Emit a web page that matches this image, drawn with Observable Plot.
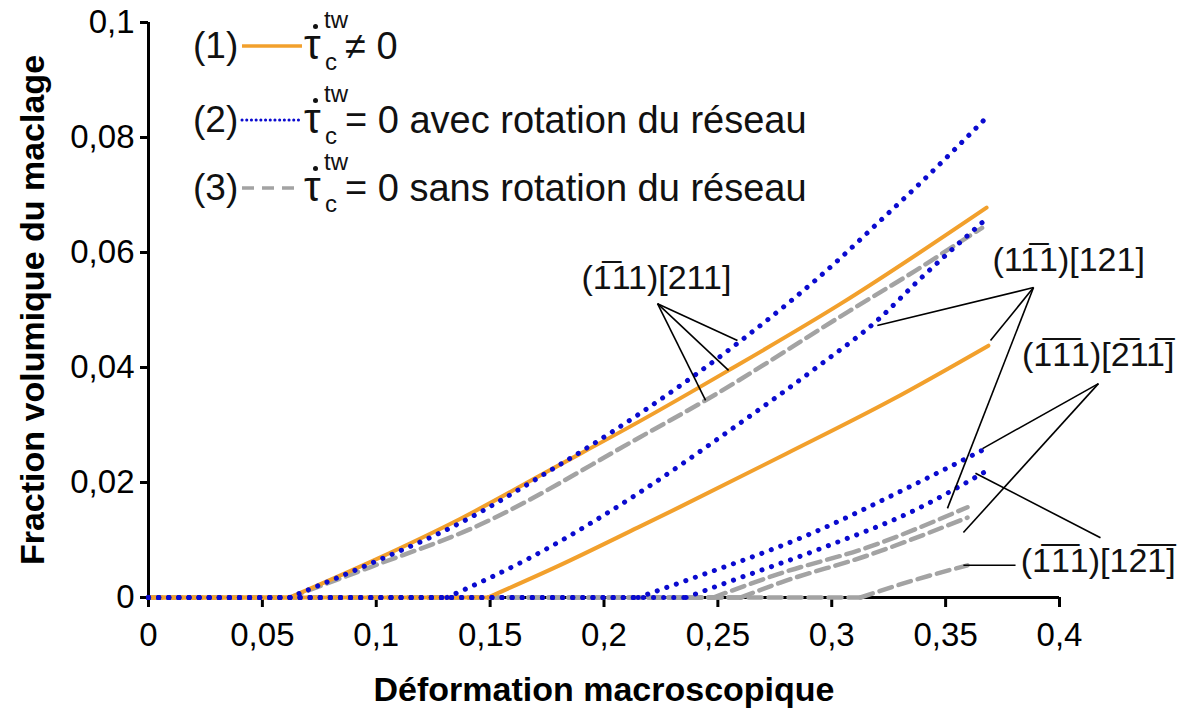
<!DOCTYPE html>
<html><head><meta charset="utf-8">
<script src="https://cdn.jsdelivr.net/npm/d3@7"></script>
<script src="https://cdn.jsdelivr.net/npm/@observablehq/plot@0.6"></script>
<style>
body{margin:0;background:#fff;}
#wrap{position:relative;width:1187px;height:724px;font-family:"Liberation Sans",Arial,sans-serif;color:#111;}
.lg{position:absolute;white-space:nowrap;line-height:1;}
</style></head><body><div id="wrap"></div>
<script>
// ---- tick values ----
const xTicks = [0, 0.05, 0.1, 0.15, 0.2, 0.25, 0.3, 0.35, 0.4];
const yTicks = [0, 0.02, 0.04, 0.06, 0.08, 0.1];
const xLabel = "Déformation macroscopique";
const yLabel = "Fraction volumique du maclage";

// ---- (1) tau_c dot != 0 : orange solid ----
const orangeA = [[0,0],[0.062,0],[0.0975,0.0062],[0.137,0.0137],[0.1765,0.0222],[0.215,0.0305],[0.2547,0.0395],[0.304,0.0511],[0.368,0.0678]];
const orangeB = [[0,0],[0.149,0],[0.18,0.0055],[0.215,0.0122],[0.2336,0.0158],[0.28,0.0250],[0.326,0.0343],[0.3688,0.0438]];

// ---- (2) = 0 avec rotation : blue dotted ----
const blueA = [[0,0],[0.062,0],[0.0975,0.0059],[0.137,0.0130],[0.1765,0.0221],[0.215,0.0318],[0.2586,0.0442],[0.304,0.0591],[0.318,0.0643],[0.340,0.0725],[0.3675,0.0833]];
const blueB = [[0,0],[0.131,0],[0.168,0.0070],[0.215,0.0181],[0.255,0.0290],[0.295,0.0405],[0.320,0.0482],[0.338,0.0551],[0.366,0.0652]];
const blueC = [[0,0],[0.215,0],[0.2336,0.0026],[0.292,0.0113],[0.336,0.0196],[0.3666,0.0257]];
const blueD = [[0,0],[0.236,0],[0.2525,0.0024],[0.2964,0.0087],[0.336,0.0151],[0.3675,0.0219]];

// ---- (3) = 0 sans rotation : gray dashed ----
const grayA = [[0,0],[0.062,0],[0.0975,0.0053],[0.143,0.0122],[0.215,0.0277],[0.2446,0.0343],[0.308,0.0499],[0.337,0.0569],[0.355,0.0615],[0.366,0.0643]];
const grayB = [[0,0],[0.248,0],[0.2775,0.0042],[0.3157,0.0087],[0.3596,0.0157]];
const grayC = [[0,0],[0.26,0],[0.2775,0.0026],[0.3157,0.0073],[0.3596,0.0139]];
const grayD = [[0,0],[0.3126,0],[0.336,0.0030],[0.3596,0.0056]];

// ---- annotation labels [x, y, text] ----
const labels = [
  [0.223, 0.0555, "(1\u030511)[211]"],
  [0.404, 0.0586, "(11\u03051)[121]"],
  [0.417, 0.0421, "(1\u03051\u03051)[2\u030511\u0305]"],
  [0.417, 0.0064, "(1\u03051\u03051)[12\u03051\u0305]"]
];
// ---- pointer lines [x1, y1, x2, y2] ----
const pointers = [
  [0.2235,0.0511, 0.2586,0.0447],
  [0.2235,0.0511, 0.2547,0.0395],
  [0.2235,0.0511, 0.2446,0.0343],
  [0.3886,0.0539, 0.320,0.0473],
  [0.3886,0.0539, 0.3697,0.0447],
  [0.3886,0.0539, 0.3508,0.0155],
  [0.4171,0.0372, 0.3662,0.0259],
  [0.4171,0.0372, 0.3578,0.0113],
  [0.418,0.0104, 0.3631,0.0216],
  [0.3807,0.0056, 0.3578,0.0056]
];

// flat part (points 0..1) and rising part (points 1..end) as separate pieces
const toRows = (arr, id) => [
  ...arr.slice(0, 2).map(([x, y]) => ({id: id + "-flat", x, y})),
  ...arr.slice(1).map(([x, y]) => ({id: id + "-rise", x, y}))
];
const grayRows = [...toRows(grayA,"A"), ...toRows(grayB,"B"), ...toRows(grayC,"C"), ...toRows(grayD,"D")];
const orangeRows = [...toRows(orangeA,"A"), ...toRows(orangeB,"B")];
const blueRows = [...toRows(blueA,"A"), ...toRows(blueB,"B"), ...toRows(blueC,"C"), ...toRows(blueD,"D")];

const ORANGE = "#F2A02C", BLUE = "#0A0ACF", GRAY = "#A3A3A3";
const fmt = d => String(d).replace(".", ",");

const chart = Plot.plot({
  width: 1187, height: 724,
  marginLeft: 148, marginRight: 128, marginTop: 22, marginBottom: 127,
  style: {fontFamily: "Liberation Sans, Arial, sans-serif", fontSize: "33px", color: "#000", background: "transparent", overflow: "visible"},
  x: {domain: [0, 0.4]},
  y: {domain: [0, 0.1]},
  marks: [
    Plot.axisX({ticks: xTicks, tickFormat: fmt, tickSize: 10, tickPadding: 15, strokeWidth: 3, fontSize: 33, label: null}),
    Plot.axisY({ticks: yTicks, tickFormat: fmt, tickSize: 8, tickPadding: 6, strokeWidth: 3, fontSize: 33, label: null}),
    Plot.ruleY([0], {stroke: "#000", strokeWidth: 3}),
    Plot.ruleX([0], {stroke: "#000", strokeWidth: 3}),
    Plot.line(grayRows, {x: "x", y: "y", z: "id", stroke: GRAY, strokeWidth: 4.5, strokeDasharray: "13 7", curve: "monotone-x"}),
    Plot.line(orangeRows, {x: "x", y: "y", z: "id", stroke: ORANGE, strokeWidth: 4, curve: "monotone-x"}),
    Plot.line(blueRows, {x: "x", y: "y", z: "id", stroke: BLUE, strokeWidth: 5, strokeDasharray: "0.1 10", strokeLinecap: "round", curve: "monotone-x"}),
    Plot.link(pointers, {x1: d => d[0], y1: d => d[1], x2: d => d[2], y2: d => d[3], stroke: "#000", strokeWidth: 1.6}),
    Plot.text(labels, {x: d => d[0], y: d => d[1], text: d => d[2], fontSize: 34, fill: "#111"}),
    Plot.text([xLabel], {text: d => d, frameAnchor: "bottom", textAnchor: "middle", dy: 103, fontSize: 34, fontWeight: "bold"}),
    Plot.text([yLabel], {text: d => d, frameAnchor: "left", textAnchor: "middle", dx: -115, rotate: -90, fontSize: 34, fontWeight: "bold"})
  ]
});

const wrap = document.getElementById("wrap");
wrap.appendChild(chart);
chart.style.position = "absolute";
chart.style.left = "0px";
chart.style.top = "0px";

// ---- legend (HTML overlay) ----
const legendRows = [
  {n: "(1)", y: 46, text: "\u2260 0", stroke: ORANGE, w: 3.5, dash: null, cap: "butt"},
  {n: "(2)", y: 120, text: "= 0 avec rotation du réseau", stroke: BLUE, w: 3, dash: "0.1 4.6", cap: "round"},
  {n: "(3)", y: 188, text: "= 0 sans rotation du réseau", stroke: GRAY, w: 3.5, dash: "12 8", cap: "butt"}
];
for (const r of legendRows) {
  const add = (html, left, top, size) => {
    const d = document.createElement("div");
    d.className = "lg";
    d.style.left = left + "px";
    d.style.top = top + "px";
    d.style.fontSize = size + "px";
    d.innerHTML = html;
    wrap.appendChild(d);
    return d;
  };
  add(r.n, 193, r.y - 19, 37);
  const s = document.createElementNS("http://www.w3.org/2000/svg", "svg");
  s.setAttribute("width", 64); s.setAttribute("height", 10);
  s.style.position = "absolute"; s.style.left = "240px"; s.style.top = (r.y - 5) + "px";
  const l = document.createElementNS("http://www.w3.org/2000/svg", "line");
  l.setAttribute("x1", 2); l.setAttribute("x2", 62); l.setAttribute("y1", 5); l.setAttribute("y2", 5);
  l.setAttribute("stroke", r.stroke); l.setAttribute("stroke-width", r.w);
  l.setAttribute("stroke-linecap", r.cap);
  if (r.dash) l.setAttribute("stroke-dasharray", r.dash);
  s.appendChild(l); wrap.appendChild(s);
  add("\u03C4", 304, r.y - 22, 42);
  const dot = document.createElement("div");
  dot.style.cssText = `position:absolute;left:313px;top:${r.y - 22}px;width:5px;height:5px;border-radius:50%;background:#111;`;
  wrap.appendChild(dot);
  add("tw", 324, r.y - 38, 24);
  add("c", 325, r.y + 4, 24);
  add(r.text, 345, r.y - 19, 38);
}
</script></body></html>
